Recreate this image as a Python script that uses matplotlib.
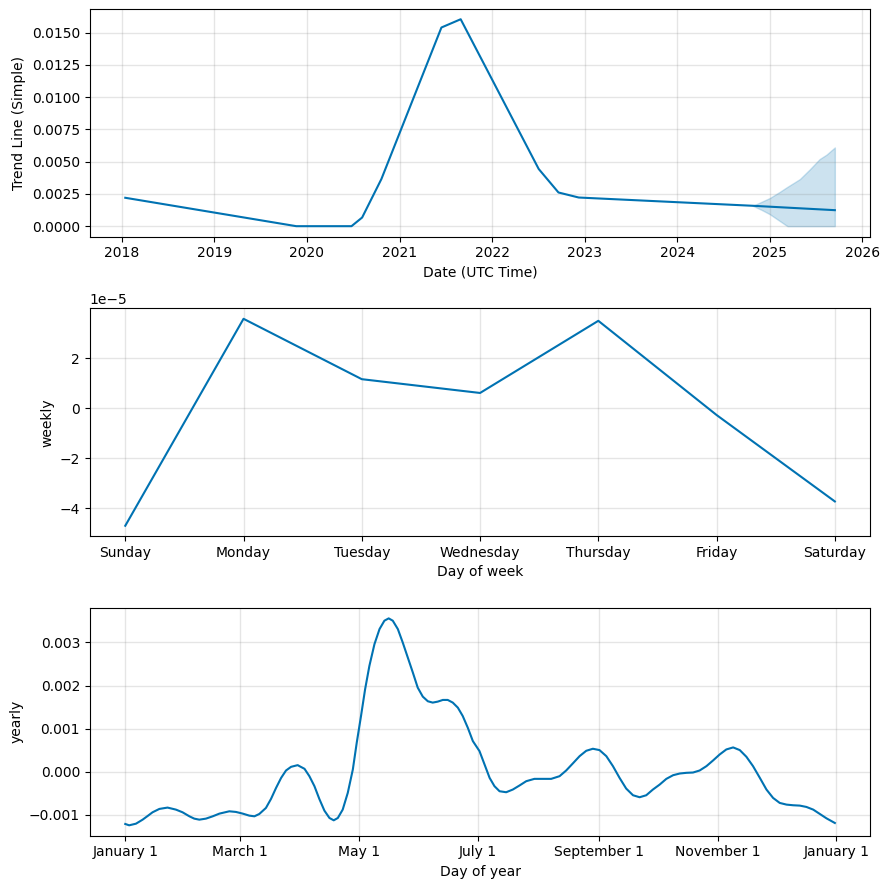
import numpy as np
import pandas as pd
import matplotlib
matplotlib.use("Agg")
import matplotlib.pyplot as plt
from matplotlib.dates import MonthLocator, num2date
from matplotlib.ticker import FuncFormatter

# trend
trend_dates = ["2018-01-14", "2019-11-20", "2020-06-25", "2020-08-06", "2020-10-21",
               "2021-06-15", "2021-08-30", "2022-07-04", "2022-09-20", "2022-12-09",
               "2024-10-26", "2025-09-15"]
trend_vals = [0.00220, 0.0, 0.0, 0.00067, 0.00365,
              0.01539, 0.01603, 0.00443, 0.00261, 0.00222,
              0.00158, 0.00124]

# forecast uncertainty band
band_dates = ["2024-10-26", "2024-12-01", "2025-01-01", "2025-02-09", "2025-03-08",
              "2025-03-12", "2025-04-30", "2025-06-08", "2025-07-17", "2025-08-13",
              "2025-09-15"]
band_upper = [0.00158, 0.00190, 0.00218, 0.00265, 0.00300, 0.00305, 0.00365, 0.00440,
              0.00520, 0.00554, 0.00610]
band_lower = [0.00158, 0.00125, 0.00093, 0.00041, 0.00005, 0.0, 0.0, 0.0, 0.0, 0.0, 0.0]

# weekly component (x 1e-5)
week_days = ["Sunday", "Monday", "Tuesday", "Wednesday", "Thursday", "Friday", "Saturday"]
weekly_vals = [-4.69, 3.57, 1.16, 0.61, 3.49, -0.27, -3.72]

# yearly component: day of year -> value (x 1e-3)
year_days = [0, 2.0, 5.5, 8.9, 11.5, 14.0, 17.5, 21.7, 26.0, 29.4, 32.9, 35.4, 38.0, 41.4,
             44.9, 48.3, 53.4, 56.8, 60.3, 63.7, 66.3, 68.8, 72.2, 74.8, 77.4, 80.0, 82.5,
             85.1, 88.5, 89.4, 92.0, 94.5, 97.1, 99.6, 102.2, 104.8, 107.0, 109.1, 111.6,
             114.2, 116.8, 118.8, 121.0, 123.1, 125.3, 127.9, 130.5, 133.0, 135.2, 137.3,
             139.9, 142.4, 145.0, 147.6, 150.1, 152.7, 155.3, 157.8, 160.4, 163.0, 165.5,
             168.1, 170.7, 173.2, 175.8, 178.4, 181.8, 184.4, 187.0, 189.5, 192.1, 195.5,
             198.9, 202.3, 205.8, 210.0, 214.3, 218.6, 222.9, 226.3, 229.7, 233.2, 236.6,
             240.0, 243.4, 246.9, 250.3, 253.7, 257.1, 260.6, 264.0, 267.4, 270.8, 274.3,
             277.7, 281.2, 284.6, 288.0, 291.4, 294.8, 298.3, 301.7, 305.1, 308.5, 312.0,
             315.4, 318.8, 322.2, 325.7, 329.1, 332.5, 335.9, 339.4, 342.8, 346.2, 349.6,
             353.1, 356.5, 359.9, 364.2]
year_vals = [-1.209, -1.240, -1.202, -1.109, -1.023, -0.938, -0.860, -0.829, -0.876,
             -0.938, -1.031, -1.085, -1.109, -1.085, -1.031, -0.969, -0.915, -0.930,
             -0.969, -1.016, -1.031, -0.977, -0.837, -0.628, -0.372, -0.140, 0.031, 0.116,
             0.155, 0.132, 0.070, -0.101, -0.333, -0.628, -0.899, -1.070, -1.124, -1.070,
             -0.876, -0.488, 0.054, 0.674, 1.295, 1.915, 2.457, 2.961, 3.310, 3.504, 3.558,
             3.504, 3.310, 3.000, 2.651, 2.302, 1.953, 1.744, 1.636, 1.605, 1.628, 1.667,
             1.667, 1.605, 1.488, 1.295, 1.023, 0.713, 0.481, 0.171, -0.140, -0.333,
             -0.450, -0.473, -0.411, -0.318, -0.217, -0.163, -0.163, -0.163, -0.101,
             0.031, 0.194, 0.364, 0.488, 0.535, 0.504, 0.364, 0.132, -0.140, -0.388,
             -0.543, -0.589, -0.543, -0.411, -0.295, -0.163, -0.078, -0.039, -0.023,
             -0.016, 0.031, 0.132, 0.264, 0.403, 0.519, 0.566, 0.504, 0.349, 0.132,
             -0.140, -0.411, -0.605, -0.721, -0.760, -0.775, -0.783, -0.814, -0.876,
             -0.977, -1.078, -1.186]

blue = "#0072B2"

fig, axes = plt.subplots(3, 1, figsize=(8.89, 8.89), dpi=100)
fig.subplots_adjust(left=0.101, right=0.979, top=0.990, bottom=0.060, hspace=0.316)

# trend
ax = axes[0]
ax.plot(pd.to_datetime(trend_dates), trend_vals, ls="-", c=blue)
ax.fill_between(pd.to_datetime(band_dates), band_lower, band_upper, color=blue, alpha=0.2)
ax.grid(True, which="major", c="gray", ls="-", lw=1, alpha=0.2)
ax.set_xlabel("Date (UTC Time)")
ax.set_ylabel("Trend Line (Simple)")

# weekly
ax = axes[1]
ax.plot(range(len(week_days)), np.array(weekly_vals) * 1e-5, ls="-", c=blue)
ax.set_xticks(range(len(week_days)))
ax.set_xticklabels(week_days)
ax.grid(True, which="major", c="gray", ls="-", lw=1, alpha=0.2)
ax.set_xlabel("Day of week")
ax.set_ylabel("weekly")

# yearly
ax = axes[2]
ydates = pd.Timestamp("2017-01-01") + pd.to_timedelta(year_days, unit="D")
ax.plot(ydates, np.array(year_vals) * 1e-3, ls="-", c=blue)
ax.xaxis.set_major_locator(MonthLocator(range(1, 13), bymonthday=1, interval=2))
ax.xaxis.set_major_formatter(FuncFormatter(
    lambda x, pos=None: "{dt:%B} {dt.day}".format(dt=num2date(x))))
ax.grid(True, which="major", c="gray", ls="-", lw=1, alpha=0.2)
ax.set_xlabel("Day of year")
ax.set_ylabel("yearly")

plt.savefig("out.png")
